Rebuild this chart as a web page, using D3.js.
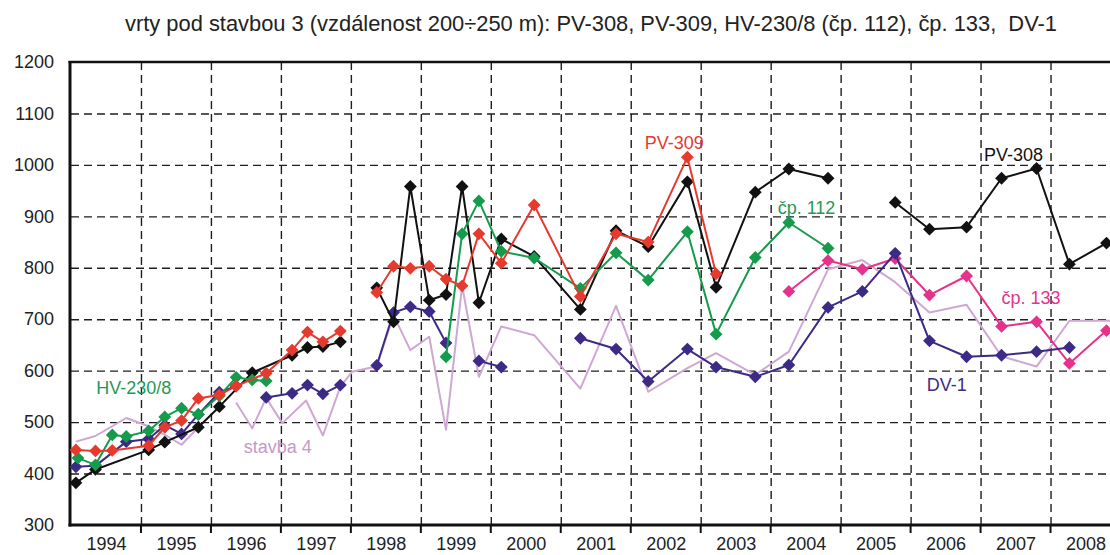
<!DOCTYPE html>
<html>
<head>
<meta charset="utf-8">
<script src="https://cdn.jsdelivr.net/npm/d3@7/dist/d3.min.js"></script>
<style>
body { margin: 0; background: #fff; }
svg { display: block; font-family: "Liberation Sans", Arial, sans-serif; }
.grid line { stroke: #1e1e1e; stroke-width: 1.4; stroke-dasharray: 8, 5; }
.grid path { display: none; }
.ylab text, .xlab text { font-size: 18px; fill: #222; }
.ylab path, .xlab path, .ylab line, .xlab line { display: none; }
.title { white-space: pre; }
</style>
</head>
<body>
<div id="chart"></div>
<script>
'use strict'

// measurement dates as decimal years, null = break in the line
const pv308Years  = [1994.07, 1994.35, 1995.11, 1995.34, 1995.82, 1996.12, 1996.59, 1997.16, 1997.38, 1997.60, 1997.85, null,
                     1998.37, 1998.61, 1998.85, 1999.12, 1999.36, 1999.59, 1999.83, 2000.15, 2000.62, 2001.28, 2001.79,
                     2002.25, 2002.81, 2003.22, 2003.78, 2004.26, 2004.82, null,
                     2005.78, 2006.27, 2006.80, 2007.30, 2007.80, 2008.27, 2008.80]
const pv308Values = [382, 408, 446, 461, 490, 530, 596, 630, 645, 647, 656, null,
                     761, 695, 958, 737, 748, 958, 732, 856, 822, 719, 872,
                     841, 967, 762, 947, 992, 974, null,
                     927, 875, 879, 974, 993, 807, 848]

const pv309Years  = [1994.07, 1994.35, 1994.59, 1995.11, 1995.34, 1995.58, 1995.82, 1996.12, 1996.36, 1996.79, 1997.16, 1997.38,
                     1997.60, 1997.85, null,
                     1998.37, 1998.61, 1998.85, 1999.12, 1999.36, 1999.59, 1999.83, 2000.15, 2000.62, 2001.28, 2001.79,
                     2002.25, 2002.81, 2003.22]
const pv309Values = [446, 444, 445, 454, 490, 503, 546, 553, 570, 595, 640, 675,
                     656, 677, null,
                     752, 803, 799, 803, 778, 765, 866, 809, 922, 744, 866,
                     850, 1015, 788]

const hv230Years  = [1994.10, 1994.35, 1994.59, 1994.79, 1995.11, 1995.34, 1995.58, 1995.82, 1996.12, 1996.36, 1996.59, 1996.79, null,
                     1999.36, 1999.59, 1999.83, 2000.15, 2000.62, 2001.28, 2001.79, 2002.25, 2002.81, 2003.22, 2003.78,
                     2004.26, 2004.82]
const hv230Values = [430, 417, 475, 472, 483, 510, 527, 515, 551, 587, 582, 580, null,
                     627, 866, 930, 832, 819, 760, 829, 776, 870, 671, 820,
                     888, 838]

const dv1Years  = [1994.07, 1994.35, 1994.79, 1995.11, 1995.34, 1995.58, 1995.82, 1996.12, 1996.36, null,
                   1996.79, 1997.16, 1997.38, 1997.60, 1997.85, null,
                   1998.37, 1998.61, 1998.85, 1999.12, 1999.36, null,
                   1999.83, 2000.15, null,
                   2001.28, 2001.79, 2002.25, 2002.81, 2003.22, 2003.78, 2004.26, 2004.82, 2005.31, 2005.78,
                   2006.27, 2006.80, 2007.30, 2007.80, 2008.27]
const dv1Values = [413, 415, 462, 467, 494, 477, 515, 558, 570, null,
                   548, 556, 572, 555, 572, null,
                   610, 713, 724, 715, 654, null,
                   619, 607, null,
                   663, 642, 579, 642, 607, 588, 611, 723, 754, 828,
                   658, 627, 630, 637, 645]

const cp133Years  = [2004.26, 2004.82, 2005.31, 2005.78, 2006.27, 2006.80, 2007.30, 2007.80, 2008.27, 2008.80]
const cp133Values = [754, 814, 797, 818, 747, 784, 686, 695, 614, 678]

// stavba 4 - plain line, no markers
const stavba4Years  = [1994.07, 1994.35, 1994.79, 1995.11, 1995.34, 1995.58, 1995.82, null,
                       1996.36, 1996.59, 1996.79, 1997.02, 1997.36, 1997.60, 1997.85, 1998.02, 1998.26, 1998.37,
                       1998.61, 1998.85, 1999.12, 1999.36, 1999.59, 1999.83, 2000.15, 2000.62, 2001.28, 2001.79,
                       2002.25, 2002.81, 2003.22, 2003.78, 2004.26, 2004.82, 2005.31, 2005.78, 2006.27, 2006.80,
                       2007.30, 2007.80, 2008.27, 2008.85]
const stavba4Values = [462, 473, 508, 492, 475, 456, 490, null,
                       538, 488, 547, 498, 542, 474, 569, 598, 605, 608,
                       708, 640, 666, 485, 765, 588, 686, 669, 565, 726,
                       559, 605, 634, 592, 637, 797, 815, 772, 713, 728,
                       628, 608, 697, 697]

const yTicks = [300, 400, 500, 600, 700, 800, 900, 1000, 1100, 1200]
const yearLabels = ['1994', '1995', '1996', '1997', '1998', '1999', '2000', '2001', '2002', '2003', '2004', '2005', '2006', '2007', '2008']

const titleText = 'vrty pod stavbou 3 (vzdálenost 200÷250 m): PV-308, PV-309, HV-230/8 (čp. 112), čp. 133,  DV-1'

function zip(years, values) {
    return years.map((y, i) => ({ t: y, v: values[i] }))
}

const series = [
    { name: 'stavba 4', data: zip(stavba4Years, stavba4Values), color: '#cfa7d3', marker: false, width: 2 },
    { name: 'čp. 133', data: zip(cp133Years, cp133Values), color: '#e5328c', marker: true, width: 2 },
    { name: 'DV-1', data: zip(dv1Years, dv1Values), color: '#3d2a86', marker: true, width: 2 },
    { name: 'PV-308', data: zip(pv308Years, pv308Values), color: '#111111', marker: true, width: 2 },
    { name: 'HV-230/8', data: zip(hv230Years, hv230Values), color: '#149b4c', marker: true, width: 2 },
    { name: 'PV-309', data: zip(pv309Years, pv309Values), color: '#e63a2e', marker: true, width: 2 }
]

const labels = [
    { text: 'PV-309', t: 2002.20, v: 1030, color: '#e63a2e' },
    { text: 'PV-308', t: 2007.05, v: 1008, color: '#111111' },
    { text: 'čp. 112', t: 2004.10, v: 905, color: '#1f9a55' },
    { text: 'čp. 133', t: 2007.30, v: 730, color: '#e5328c' },
    { text: 'DV-1', t: 2006.23, v: 560, color: '#3d2a86' },
    { text: 'HV-230/8', t: 1994.36, v: 555, color: '#1f9a55' },
    { text: 'stavba 4', t: 1996.47, v: 439, color: '#c49ac8' }
]

const svgWidth = 1110
const svgHeight = 555
const margin = { left: 71, top: 62, right: 0, bottom: 30 }
const width = svgWidth - margin.left - margin.right
const height = svgHeight - margin.top - margin.bottom

const root = d3.select('#chart')
    .append('svg')
    .attr('width', svgWidth)
    .attr('height', svgHeight)

// title (double space before DV-1 kept)
root.append('text')
    .attr('class', 'title')
    .attr('x', 125)
    .attr('y', 31)
    .attr('font-size', 21.5)
    .attr('textLength', 932)
    .attr('lengthAdjust', 'spacingAndGlyphs')
    .attr('fill', '#222')
    .text(titleText)

const svg = root.append('g')
    .attr('transform', `translate(${margin.left},${margin.top})`)

// scales
const xScale = d3.scaleLinear()
    .domain([1994, 2008.85])
    .range([0, width])

const yScale = d3.scaleLinear()
    .domain([300, 1200])
    .range([height, 0])

// horizontal gridlines
svg.append('g')
    .attr('class', 'grid')
    .call(d3.axisLeft(yScale)
        .tickValues(yTicks.slice(1, -1))
        .tickSize(-width)
        .tickFormat(''))

// vertical gridlines at year boundaries
svg.append('g')
    .attr('class', 'grid')
    .call(d3.axisBottom(xScale)
        .tickValues(d3.range(1995, 2010))
        .tickSize(height)
        .tickFormat(''))

// y labels
svg.append('g')
    .attr('class', 'ylab')
    .attr('transform', 'translate(-17,0)')
    .call(d3.axisLeft(yScale).tickValues(yTicks).tickSize(0).tickPadding(0).tickFormat(d3.format('d')))

// year labels sit between the boundaries
svg.append('g')
    .attr('class', 'xlab')
    .attr('transform', `translate(0,${height + 10})`)
    .call(d3.axisBottom(xScale)
        .tickValues(yearLabels.map(y => +y + 0.5))
        .tickSize(0)
        .tickPadding(2)
        .tickFormat((d, i) => yearLabels[i]))

// tick marks below the axis
svg.append('g')
    .selectAll('line')
    .data(d3.range(1995, 2010))
    .join('line')
    .attr('x1', d => xScale(d))
    .attr('x2', d => xScale(d))
    .attr('y1', height)
    .attr('y2', height + 8)
    .attr('stroke', '#111')
    .attr('stroke-width', 2)

// frame: left, bottom, top
svg.append('line').attr('x1', -1).attr('x2', -1).attr('y1', -1).attr('y2', height + 1.5)
    .attr('stroke', '#111').attr('stroke-width', 3)
svg.append('line').attr('x1', -2.5).attr('x2', width).attr('y1', height).attr('y2', height)
    .attr('stroke', '#111').attr('stroke-width', 3)
svg.append('line').attr('x1', -2.5).attr('x2', width).attr('y1', 0).attr('y2', 0)
    .attr('stroke', '#111').attr('stroke-width', 2.5)

// series
const line = d3.line()
    .defined(d => d.v !== null)
    .x(d => xScale(d.t))
    .y(d => yScale(d.v))

const diamond = d3.symbol().type(d3.symbolSquare).size(82)

series.forEach(s => {
    const g = svg.append('g').attr('class', 'series')
    g.append('path')
        .datum(s.data)
        .attr('d', line)
        .attr('fill', 'none')
        .attr('stroke', s.color)
        .attr('stroke-width', s.width)
        .attr('stroke-linejoin', 'round')

    if (s.marker) {
        g.selectAll('path.pt')
            .data(s.data.filter(d => d.v !== null))
            .join('path')
            .attr('class', 'pt')
            .attr('d', diamond)
            .attr('transform', d => `translate(${xScale(d.t)},${yScale(d.v)}) rotate(45)`)
            .attr('fill', s.color)
    }
})

// series labels
svg.append('g')
    .selectAll('text')
    .data(labels)
    .join('text')
    .attr('x', d => xScale(d.t))
    .attr('y', d => yScale(d.v))
    .attr('font-size', 18)
    .attr('fill', d => d.color)
    .text(d => d.text)
</script>
</body>
</html>
